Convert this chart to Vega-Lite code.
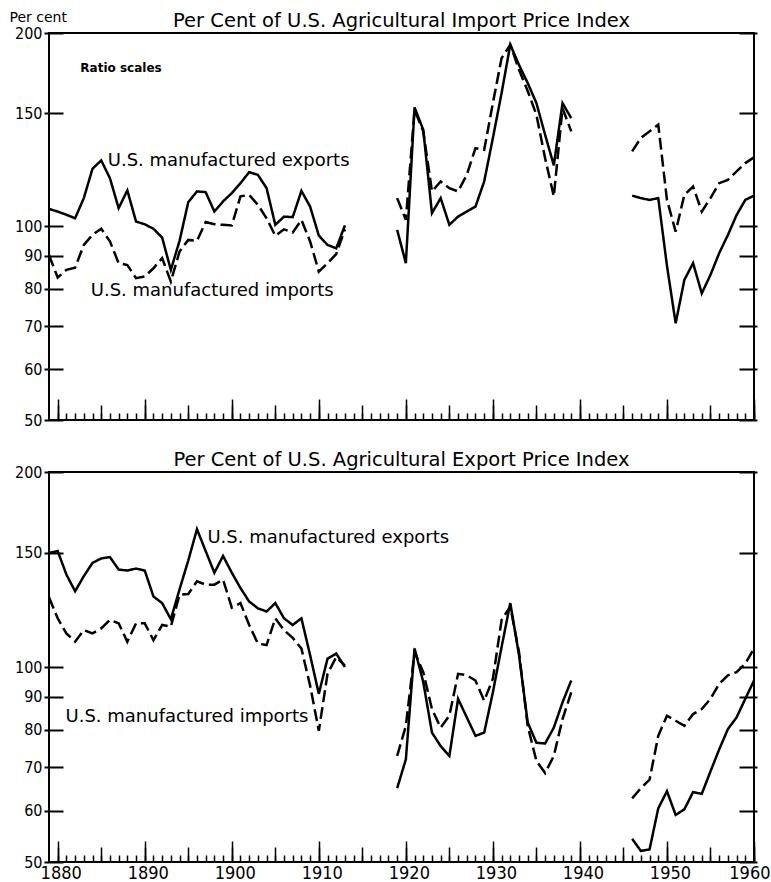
{
"$schema":"https://vega.github.io/schema/vega-lite/v6.json",
"padding":{"left":8,"top":9,"right":5,"bottom":0},
"background":"white",
"config":{
"view":{"stroke":"black","strokeWidth":2},
"title":{"font":"DejaVu Sans","fontSize":19.5,"fontWeight":"normal","color":"black","frame":"group"},
"axis":{"domain":false,"grid":false,"tickColor":"black","labelColor":"black","labelFont":"DejaVu Sans Condensed","labelOverlap":false,"labelFlush":false},
"concat":{"spacing":19}
},
"datasets":{
"importIndex":[
{"series":"exports","period":"a","year":1879,"value":106.5},{"series":"exports","period":"a","year":1880,"value":105.5},{"series":"exports","period":"a","year":1881,"value":104.3},{"series":"exports","period":"a","year":1882,"value":103},{"series":"exports","period":"a","year":1883,"value":110.7},{"series":"exports","period":"a","year":1884,"value":123},{"series":"exports","period":"a","year":1885,"value":126.7},{"series":"exports","period":"a","year":1886,"value":118.9},{"series":"exports","period":"a","year":1887,"value":106.8},{"series":"exports","period":"a","year":1888,"value":113.8},{"series":"exports","period":"a","year":1889,"value":101.8},{"series":"exports","period":"a","year":1890,"value":100.8},{"series":"exports","period":"a","year":1891,"value":99.2},{"series":"exports","period":"a","year":1892,"value":96.1},{"series":"exports","period":"a","year":1893,"value":85.6},{"series":"exports","period":"a","year":1894,"value":95},{"series":"exports","period":"a","year":1895,"value":109.1},{"series":"exports","period":"a","year":1896,"value":113.4},{"series":"exports","period":"a","year":1897,"value":113.1},{"series":"exports","period":"a","year":1898,"value":105.5},{"series":"exports","period":"a","year":1899,"value":109.4},{"series":"exports","period":"a","year":1900,"value":112.7},{"series":"exports","period":"a","year":1901,"value":116.8},{"series":"exports","period":"a","year":1902,"value":121.5},{"series":"exports","period":"a","year":1903,"value":120.3},{"series":"exports","period":"a","year":1904,"value":114.7},{"series":"exports","period":"a","year":1905,"value":100.6},{"series":"exports","period":"a","year":1906,"value":103.6},{"series":"exports","period":"a","year":1907,"value":103.4},{"series":"exports","period":"a","year":1908,"value":113.6},{"series":"exports","period":"a","year":1909,"value":107.4},{"series":"exports","period":"a","year":1910,"value":96.8},{"series":"exports","period":"a","year":1911,"value":93.6},{"series":"exports","period":"a","year":1912,"value":92.5},{"series":"exports","period":"a","year":1913,"value":100.4},
{"series":"exports","period":"b","year":1919,"value":98.8},{"series":"exports","period":"b","year":1920,"value":87.7},{"series":"exports","period":"b","year":1921,"value":153.2},{"series":"exports","period":"b","year":1922,"value":141.4},{"series":"exports","period":"b","year":1923,"value":104.9},{"series":"exports","period":"b","year":1924,"value":110.7},{"series":"exports","period":"b","year":1925,"value":100.6},{"series":"exports","period":"b","year":1926,"value":103.6},{"series":"exports","period":"b","year":1927,"value":105.5},{"series":"exports","period":"b","year":1928,"value":107.4},{"series":"exports","period":"b","year":1929,"value":117.5},{"series":"exports","period":"b","year":1930,"value":137.3},{"series":"exports","period":"b","year":1931,"value":161.3},{"series":"exports","period":"b","year":1932,"value":191.8},{"series":"exports","period":"b","year":1933,"value":178.4},{"series":"exports","period":"b","year":1934,"value":167.2},{"series":"exports","period":"b","year":1935,"value":155.6},{"series":"exports","period":"b","year":1936,"value":138.9},{"series":"exports","period":"b","year":1937,"value":124.5},{"series":"exports","period":"b","year":1938,"value":155.6},{"series":"exports","period":"b","year":1939,"value":147.4},
{"series":"exports","period":"c","year":1946,"value":111.7},{"series":"exports","period":"c","year":1947,"value":110.7},{"series":"exports","period":"c","year":1948,"value":110.0},{"series":"exports","period":"c","year":1949,"value":110.7},{"series":"exports","period":"c","year":1950,"value":86.9},{"series":"exports","period":"c","year":1951,"value":70.7},{"series":"exports","period":"c","year":1952,"value":82.6},{"series":"exports","period":"c","year":1953,"value":87.7},{"series":"exports","period":"c","year":1954,"value":78.7},{"series":"exports","period":"c","year":1955,"value":84.1},{"series":"exports","period":"c","year":1956,"value":90.9},{"series":"exports","period":"c","year":1957,"value":97.0},{"series":"exports","period":"c","year":1958,"value":104.2},{"series":"exports","period":"c","year":1959,"value":110.0},{"series":"exports","period":"c","year":1960,"value":111.7},
{"series":"imports","period":"a","year":1879,"value":90.3},{"series":"imports","period":"a","year":1880,"value":83.3},{"series":"imports","period":"a","year":1881,"value":85.6},{"series":"imports","period":"a","year":1882,"value":86.3},{"series":"imports","period":"a","year":1883,"value":93.6},{"series":"imports","period":"a","year":1884,"value":97.1},{"series":"imports","period":"a","year":1885,"value":99.2},{"series":"imports","period":"a","year":1886,"value":94.8},{"series":"imports","period":"a","year":1887,"value":87.7},{"series":"imports","period":"a","year":1888,"value":87.1},{"series":"imports","period":"a","year":1889,"value":83.1},{"series":"imports","period":"a","year":1890,"value":83.6},{"series":"imports","period":"a","year":1891,"value":86.1},{"series":"imports","period":"a","year":1892,"value":89.3},{"series":"imports","period":"a","year":1893,"value":82.1},{"series":"imports","period":"a","year":1894,"value":91.4},{"series":"imports","period":"a","year":1895,"value":95.3},{"series":"imports","period":"a","year":1896,"value":95.0},{"series":"imports","period":"a","year":1897,"value":101.6},{"series":"imports","period":"a","year":1898,"value":100.8},{"series":"imports","period":"a","year":1899,"value":100.6},{"series":"imports","period":"a","year":1900,"value":100.4},{"series":"imports","period":"a","year":1901,"value":111.4},{"series":"imports","period":"a","year":1902,"value":112.0},{"series":"imports","period":"a","year":1903,"value":108.1},{"series":"imports","period":"a","year":1904,"value":103.0},{"series":"imports","period":"a","year":1905,"value":96.7},{"series":"imports","period":"a","year":1906,"value":99.0},{"series":"imports","period":"a","year":1907,"value":97.9},{"series":"imports","period":"a","year":1908,"value":102.4},{"series":"imports","period":"a","year":1909,"value":94.8},{"series":"imports","period":"a","year":1910,"value":85.1},{"series":"imports","period":"a","year":1911,"value":87.7},{"series":"imports","period":"a","year":1912,"value":90.6},{"series":"imports","period":"a","year":1913,"value":99},
{"series":"imports","period":"b","year":1919,"value":110.7},{"series":"imports","period":"b","year":1920,"value":102.4},{"series":"imports","period":"b","year":1921,"value":151.9},{"series":"imports","period":"b","year":1922,"value":140.6},{"series":"imports","period":"b","year":1923,"value":113.4},{"series":"imports","period":"b","year":1924,"value":117.5},{"series":"imports","period":"b","year":1925,"value":114.7},{"series":"imports","period":"b","year":1926,"value":113.4},{"series":"imports","period":"b","year":1927,"value":120.3},{"series":"imports","period":"b","year":1928,"value":132.4},{"series":"imports","period":"b","year":1929,"value":131.6},{"series":"imports","period":"b","year":1930,"value":155.6},{"series":"imports","period":"b","year":1931,"value":182.8},{"series":"imports","period":"b","year":1932,"value":191.8},{"series":"imports","period":"b","year":1933,"value":175.3},{"series":"imports","period":"b","year":1934,"value":162.5},{"series":"imports","period":"b","year":1935,"value":149.2},{"series":"imports","period":"b","year":1936,"value":127.7},{"series":"imports","period":"b","year":1937,"value":111.4},{"series":"imports","period":"b","year":1938,"value":152.8},{"series":"imports","period":"b","year":1939,"value":140.6},
{"series":"imports","period":"c","year":1946,"value":130.9},{"series":"imports","period":"c","year":1947,"value":137.3},{"series":"imports","period":"c","year":1948,"value":140.6},{"series":"imports","period":"c","year":1949,"value":144.0},{"series":"imports","period":"c","year":1950,"value":110.0},{"series":"imports","period":"c","year":1951,"value":98.2},{"series":"imports","period":"c","year":1952,"value":112.0},{"series":"imports","period":"c","year":1953,"value":115.4},{"series":"imports","period":"c","year":1954,"value":105.5},{"series":"imports","period":"c","year":1955,"value":110.7},{"series":"imports","period":"c","year":1956,"value":116.8},{"series":"imports","period":"c","year":1957,"value":118.2},{"series":"imports","period":"c","year":1958,"value":121.8},{"series":"imports","period":"c","year":1959,"value":125.5},{"series":"imports","period":"c","year":1960,"value":128.1}
],
"exportIndex":[
{"series":"exports","period":"a","year":1879,"value":150},{"series":"exports","period":"a","year":1880,"value":151},{"series":"exports","period":"a","year":1881,"value":138.9},{"series":"exports","period":"a","year":1882,"value":130.9},{"series":"exports","period":"a","year":1883,"value":138.1},{"series":"exports","period":"a","year":1884,"value":144.8},{"series":"exports","period":"a","year":1885,"value":147.1},{"series":"exports","period":"a","year":1886,"value":147.8},{"series":"exports","period":"a","year":1887,"value":141.4},{"series":"exports","period":"a","year":1888,"value":140.9},{"series":"exports","period":"a","year":1889,"value":141.9},{"series":"exports","period":"a","year":1890,"value":140.9},{"series":"exports","period":"a","year":1891,"value":128.5},{"series":"exports","period":"a","year":1892,"value":125.5},{"series":"exports","period":"a","year":1893,"value":118.5},{"series":"exports","period":"a","year":1894,"value":131.8},{"series":"exports","period":"a","year":1895,"value":146},{"series":"exports","period":"a","year":1896,"value":163.2},{"series":"exports","period":"a","year":1897,"value":151},{"series":"exports","period":"a","year":1898,"value":139.8},{"series":"exports","period":"a","year":1899,"value":148.4},{"series":"exports","period":"a","year":1900,"value":139.8},{"series":"exports","period":"a","year":1901,"value":132.4},{"series":"exports","period":"a","year":1902,"value":126.2},{"series":"exports","period":"a","year":1903,"value":123.2},{"series":"exports","period":"a","year":1904,"value":121.8},{"series":"exports","period":"a","year":1905,"value":125.5},{"series":"exports","period":"a","year":1906,"value":118.9},{"series":"exports","period":"a","year":1907,"value":116.1},{"series":"exports","period":"a","year":1908,"value":118.9},{"series":"exports","period":"a","year":1909,"value":104.3},{"series":"exports","period":"a","year":1910,"value":90.9},{"series":"exports","period":"a","year":1911,"value":103},{"series":"exports","period":"a","year":1912,"value":104.9},{"series":"exports","period":"a","year":1913,"value":100},
{"series":"exports","period":"b","year":1919,"value":65.0},{"series":"exports","period":"b","year":1920,"value":72.0},{"series":"exports","period":"b","year":1921,"value":106.8},{"series":"exports","period":"b","year":1922,"value":94.8},{"series":"exports","period":"b","year":1923,"value":79.2},{"series":"exports","period":"b","year":1924,"value":75.5},{"series":"exports","period":"b","year":1925,"value":72.9},{"series":"exports","period":"b","year":1926,"value":89.3},{"series":"exports","period":"b","year":1927,"value":83.6},{"series":"exports","period":"b","year":1928,"value":78.3},{"series":"exports","period":"b","year":1929,"value":79.2},{"series":"exports","period":"b","year":1930,"value":91.4},{"series":"exports","period":"b","year":1931,"value":107.4},{"series":"exports","period":"b","year":1932,"value":125.5},{"series":"exports","period":"b","year":1933,"value":104.3},{"series":"exports","period":"b","year":1934,"value":82.1},{"series":"exports","period":"b","year":1935,"value":76.4},{"series":"exports","period":"b","year":1936,"value":76.2},{"series":"exports","period":"b","year":1937,"value":80.6},{"series":"exports","period":"b","year":1938,"value":88.2},{"series":"exports","period":"b","year":1939,"value":95.3},
{"series":"exports","period":"c","year":1946,"value":54.3},{"series":"exports","period":"c","year":1947,"value":52.0},{"series":"exports","period":"c","year":1948,"value":52.3},{"series":"exports","period":"c","year":1949,"value":60.5},{"series":"exports","period":"c","year":1950,"value":64.3},{"series":"exports","period":"c","year":1951,"value":59.1},{"series":"exports","period":"c","year":1952,"value":60.3},{"series":"exports","period":"c","year":1953,"value":64.1},{"series":"exports","period":"c","year":1954,"value":63.7},{"series":"exports","period":"c","year":1955,"value":69.0},{"series":"exports","period":"c","year":1956,"value":74.6},{"series":"exports","period":"c","year":1957,"value":80.2},{"series":"exports","period":"c","year":1958,"value":83.6},{"series":"exports","period":"c","year":1959,"value":89.3},{"series":"exports","period":"c","year":1960,"value":95.3},
{"series":"imports","period":"a","year":1879,"value":128.1},{"series":"imports","period":"a","year":1880,"value":118.9},{"series":"imports","period":"a","year":1881,"value":112.7},{"series":"imports","period":"a","year":1882,"value":109.4},{"series":"imports","period":"a","year":1883,"value":114.0},{"series":"imports","period":"a","year":1884,"value":112.7},{"series":"imports","period":"a","year":1885,"value":114.7},{"series":"imports","period":"a","year":1886,"value":118.2},{"series":"imports","period":"a","year":1887,"value":116.8},{"series":"imports","period":"a","year":1888,"value":109.4},{"series":"imports","period":"a","year":1889,"value":116.8},{"series":"imports","period":"a","year":1890,"value":116.8},{"series":"imports","period":"a","year":1891,"value":110.0},{"series":"imports","period":"a","year":1892,"value":116.1},{"series":"imports","period":"a","year":1893,"value":115.4},{"series":"imports","period":"a","year":1894,"value":129.3},{"series":"imports","period":"a","year":1895,"value":129.6},{"series":"imports","period":"a","year":1896,"value":135.6},{"series":"imports","period":"a","year":1897,"value":134.0},{"series":"imports","period":"a","year":1898,"value":134.0},{"series":"imports","period":"a","year":1899,"value":136.4},{"series":"imports","period":"a","year":1900,"value":123.5},{"series":"imports","period":"a","year":1901,"value":125.5},{"series":"imports","period":"a","year":1902,"value":116.1},{"series":"imports","period":"a","year":1903,"value":108.7},{"series":"imports","period":"a","year":1904,"value":108.1},{"series":"imports","period":"a","year":1905,"value":118.9},{"series":"imports","period":"a","year":1906,"value":114.0},{"series":"imports","period":"a","year":1907,"value":110.9},{"series":"imports","period":"a","year":1908,"value":106.8},{"series":"imports","period":"a","year":1909,"value":93.6},{"series":"imports","period":"a","year":1910,"value":79.7},{"series":"imports","period":"a","year":1911,"value":97.6},{"series":"imports","period":"a","year":1912,"value":103.6},{"series":"imports","period":"a","year":1913,"value":100.5},
{"series":"imports","period":"b","year":1919,"value":72.9},{"series":"imports","period":"b","year":1920,"value":81.1},{"series":"imports","period":"b","year":1921,"value":105.5},{"series":"imports","period":"b","year":1922,"value":98.2},{"series":"imports","period":"b","year":1923,"value":86.1},{"series":"imports","period":"b","year":1924,"value":80.6},{"series":"imports","period":"b","year":1925,"value":84.1},{"series":"imports","period":"b","year":1926,"value":97.6},{"series":"imports","period":"b","year":1927,"value":97.1},{"series":"imports","period":"b","year":1928,"value":95.3},{"series":"imports","period":"b","year":1929,"value":88.7},{"series":"imports","period":"b","year":1930,"value":95.9},{"series":"imports","period":"b","year":1931,"value":118.2},{"series":"imports","period":"b","year":1932,"value":124.0},{"series":"imports","period":"b","year":1933,"value":105.5},{"series":"imports","period":"b","year":1934,"value":81.1},{"series":"imports","period":"b","year":1935,"value":71.6},{"series":"imports","period":"b","year":1936,"value":68.6},{"series":"imports","period":"b","year":1937,"value":72.9},{"series":"imports","period":"b","year":1938,"value":83.1},{"series":"imports","period":"b","year":1939,"value":91.4},
{"series":"imports","period":"c","year":1946,"value":62.7},{"series":"imports","period":"c","year":1947,"value":65.0},{"series":"imports","period":"c","year":1948,"value":67.0},{"series":"imports","period":"c","year":1949,"value":78.3},{"series":"imports","period":"c","year":1950,"value":84.1},{"series":"imports","period":"c","year":1951,"value":82.6},{"series":"imports","period":"c","year":1952,"value":81.1},{"series":"imports","period":"c","year":1953,"value":84.6},{"series":"imports","period":"c","year":1954,"value":86.1},{"series":"imports","period":"c","year":1955,"value":89.3},{"series":"imports","period":"c","year":1956,"value":94.2},{"series":"imports","period":"c","year":1957,"value":97.1},{"series":"imports","period":"c","year":1958,"value":98.2},{"series":"imports","period":"c","year":1959,"value":101.2},{"series":"imports","period":"c","year":1960,"value":106.8}
],
"notes":[
{"panel":"import","kind":"series","label":"U.S. manufactured exports","year":1885.75,"value":126.4},
{"panel":"import","kind":"series","label":"U.S. manufactured imports","year":1883.8,"value":79.3},
{"panel":"import","kind":"note","label":"Ratio scales","year":1882.6,"value":176.4},
{"panel":"export","kind":"exp","label":"U.S. manufactured exports","year":1897.2,"value":158.4},
{"panel":"export","kind":"imp","label":"U.S. manufactured imports","year":1880.9,"value":83.7}
]
},
"vconcat":[
{
"title":{"text":"Per Cent of U.S. Agricultural Import Price Index","offset":-21},
"width":705,"height":387,
"layer":[
{"data":{"name":"importIndex"},
"mark":{"type":"line","color":"black","strokeWidth":2.5},
"encoding":{
"x":{"field":"year","type":"quantitative","scale":{"domain":[1879,1960],"nice":false,"zero":false},
"axis":{"orient":"bottom","title":null,"labels":false,"tickSize":0,"tickWidth":1.5,
"values":[1880,1881,1882,1883,1884,1885,1886,1887,1888,1889,1890,1891,1892,1893,1894,1895,1896,1897,1898,1899,1900,1901,1902,1903,1904,1905,1906,1907,1908,1909,1910,1911,1912,1913,1914,1915,1916,1917,1918,1919,1920,1921,1922,1923,1924,1925,1926,1927,1928,1929,1930,1931,1932,1933,1934,1935,1936,1937,1938,1939,1940,1941,1942,1943,1944,1945,1946,1947,1948,1949,1950,1951,1952,1953,1954,1955,1956,1957,1958,1959,1960],
"encoding":{"ticks":{"y2":{"value":-7}}}}},
"y":{"field":"value","type":"quantitative","scale":{"type":"log","domain":[50,200],"nice":false},
"axis":{"orient":"left","title":"Per cent","titleAngle":0,"titleAlign":"left","titleBaseline":"alphabetic","titleX":-40,"titleY":-12,"titleFont":"DejaVu Sans","titleFontSize":14,"titleFontWeight":"normal","titleColor":"black",
"values":[50,60,70,80,90,100,150,200],"format":"d","labelFontSize":16,"labelPadding":7,"tickSize":0,"tickWidth":2,
"encoding":{"ticks":{"x":{"value":-5},"x2":{"value":14}}}}},
"strokeDash":{"field":"series","type":"nominal","scale":{"domain":["exports","imports"],"range":[[1,0],[12,5]]},"legend":null},
"detail":{"field":"period","type":"nominal"}
}},
{"data":{"name":"notes"},
"transform":[{"filter":"datum.panel === 'import' && datum.kind === 'series'"}],
"mark":{"type":"text","align":"left","baseline":"middle","font":"DejaVu Sans","fontSize":18,"color":"black"},
"encoding":{
"x":{"field":"year","type":"quantitative","scale":{"domain":[1879,1960],"nice":false,"zero":false},
"axis":{"orient":"bottom","title":null,"labels":false,"tickSize":0,"tickWidth":1.5,
"values":[1880,1885,1890,1895,1900,1905,1910,1915,1920,1925,1930,1935,1940,1945,1950,1955,1960],
"encoding":{"ticks":{"y2":{"value":-15}}}}},
"y":{"field":"value","type":"quantitative","scale":{"type":"log","domain":[50,200],"nice":false},
"axis":{"orient":"right","title":null,"labels":false,"values":[50,60,70,80,90,100,150,200],"tickSize":0,"tickWidth":2,
"encoding":{"ticks":{"x":{"value":3},"x2":{"value":-15}}}}},
"text":{"field":"label","type":"nominal"}
}},
{"data":{"name":"notes"},
"transform":[{"filter":"datum.panel === 'import' && datum.kind === 'note'"}],
"mark":{"type":"text","align":"left","baseline":"middle","font":"DejaVu Sans","fontSize":12,"fontWeight":"bold","color":"black"},
"encoding":{
"x":{"field":"year","type":"quantitative","scale":{"domain":[1879,1960],"nice":false,"zero":false},
"axis":{"orient":"bottom","title":null,"labels":false,"tickSize":0,"tickWidth":1.5,
"values":[1880,1890,1900,1910,1920,1930,1940,1950,1960],
"encoding":{"ticks":{"y2":{"value":-21}}}}},
"y":{"field":"value","type":"quantitative","scale":{"type":"log","domain":[50,200],"nice":false},"axis":null},
"text":{"field":"label","type":"nominal"}
}}
],
"resolve":{"axis":{"x":"independent","y":"independent"}}
},
{
"title":{"text":"Per Cent of U.S. Agricultural Export Price Index","offset":-6},
"width":705,"height":390,
"layer":[
{"data":{"name":"exportIndex"},
"mark":{"type":"line","color":"black","strokeWidth":2.5},
"encoding":{
"x":{"field":"year","type":"quantitative","scale":{"domain":[1879,1960],"nice":false,"zero":false},
"axis":{"orient":"bottom","title":null,"labels":false,"tickSize":0,"tickWidth":1.5,
"values":[1880,1881,1882,1883,1884,1885,1886,1887,1888,1889,1890,1891,1892,1893,1894,1895,1896,1897,1898,1899,1900,1901,1902,1903,1904,1905,1906,1907,1908,1909,1910,1911,1912,1913,1914,1915,1916,1917,1918,1919,1920,1921,1922,1923,1924,1925,1926,1927,1928,1929,1930,1931,1932,1933,1934,1935,1936,1937,1938,1939,1940,1941,1942,1943,1944,1945,1946,1947,1948,1949,1950,1951,1952,1953,1954,1955,1956,1957,1958,1959,1960],
"encoding":{"ticks":{"y2":{"value":-7}}}}},
"y":{"field":"value","type":"quantitative","scale":{"type":"log","domain":[50,200],"nice":false},
"axis":{"orient":"left","title":null,
"values":[50,60,70,80,90,100,150,200],"format":"d","labelFontSize":16,"labelPadding":7,"tickSize":0,"tickWidth":2,
"encoding":{"ticks":{"x":{"value":-5},"x2":{"value":14}}}}},
"strokeDash":{"field":"series","type":"nominal","scale":{"domain":["exports","imports"],"range":[[1,0],[12,5]]},"legend":null},
"detail":{"field":"period","type":"nominal"}
}},
{"data":{"name":"notes"},
"transform":[{"filter":"datum.panel === 'export' && datum.kind === 'exp'"}],
"mark":{"type":"text","align":"left","baseline":"middle","font":"DejaVu Sans","fontSize":18,"color":"black"},
"encoding":{
"x":{"field":"year","type":"quantitative","scale":{"domain":[1879,1960],"nice":false,"zero":false},
"axis":{"orient":"bottom","title":null,"labels":false,"tickSize":0,"tickWidth":1.5,
"values":[1880,1885,1890,1895,1900,1905,1910,1915,1920,1925,1930,1935,1940,1945,1950,1955,1960],
"encoding":{"ticks":{"y2":{"value":-15}}}}},
"y":{"field":"value","type":"quantitative","scale":{"type":"log","domain":[50,200],"nice":false},
"axis":{"orient":"right","title":null,"labels":false,"values":[50,60,70,80,90,100,150,200],"tickSize":0,"tickWidth":2,
"encoding":{"ticks":{"x":{"value":3},"x2":{"value":-15}}}}},
"text":{"field":"label","type":"nominal"}
}},
{"data":{"name":"notes"},
"transform":[{"filter":"datum.panel === 'export' && datum.kind === 'imp'"}],
"mark":{"type":"text","align":"left","baseline":"middle","font":"DejaVu Sans","fontSize":18,"color":"black"},
"encoding":{
"x":{"field":"year","type":"quantitative","scale":{"domain":[1879,1960],"nice":false,"zero":false},
"axis":{"orient":"bottom","title":null,"labels":true,"format":"d","labelFontSize":18,"labelPadding":2,"labelOffset":3,"labelFlush":4,"labelFlushOffset":13,"tickSize":0,"tickWidth":1.5,
"values":[1880,1890,1900,1910,1920,1930,1940,1950,1960],
"encoding":{"ticks":{"y2":{"value":-21}}}}},
"y":{"field":"value","type":"quantitative","scale":{"type":"log","domain":[50,200],"nice":false},"axis":null},
"text":{"field":"label","type":"nominal"}
}}
],
"resolve":{"axis":{"x":"independent","y":"independent"}}
}
]
}
